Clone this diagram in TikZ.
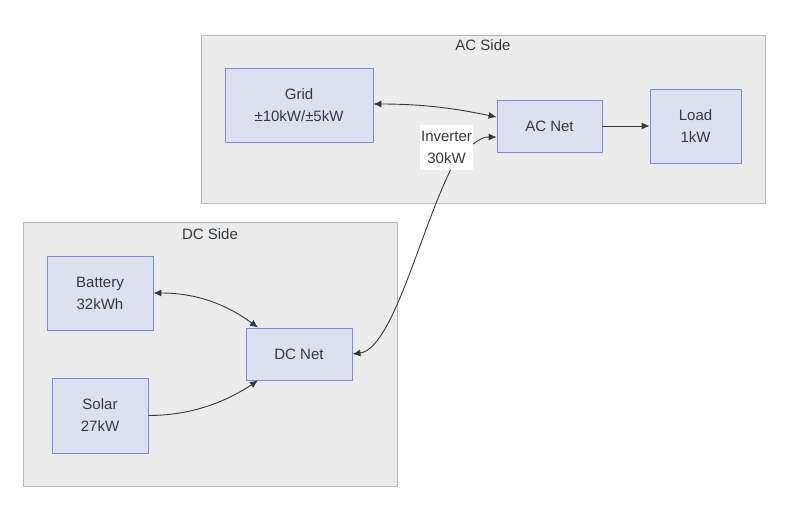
\documentclass[tikz,border=0pt]{standalone}
\usepackage{fontspec}
\setmainfont{Liberation Sans}
\usetikzlibrary{arrows.meta}
\definecolor{clfill}{HTML}{ECECEC}
\definecolor{cldraw}{HTML}{B8B8B8}
\definecolor{ndfill}{HTML}{DDE0EF}
\definecolor{nddraw}{HTML}{7F86F2}
\definecolor{txt}{HTML}{333A40}
\tikzset{
  cluster/.style={fill=clfill,draw=cldraw,line width=0.9pt},
  box/.style={fill=ndfill,draw=nddraw,line width=0.9pt,inner sep=0pt,align=center,text=txt,font=\fontsize{15}{22}\selectfont},
  ttl/.style={text=txt,font=\fontsize{15}{16}\selectfont,inner sep=0pt},
  conn/.style={draw=txt,line width=0.9pt},
  tip/.style={-{Latex[length=8pt,width=7pt]}},
  tips/.style={{Latex[length=8pt,width=7pt]}-{Latex[length=8pt,width=7pt]}}
}
\begin{document}
\begin{tikzpicture}[x=1pt,y=-1pt]
\useasboundingbox (0,0) rectangle (794,516);
% clusters
\path[cluster] (201,35) rectangle (765,203);
\node[ttl] (actitle) at (483,45) {AC Side};
\path[cluster] (23,222) rectangle (397,486);
\node[ttl] (dctitle) at (210,234) {DC Side};
% nodes
\node[box,minimum width=148pt,minimum height=74pt] (grid) at (299,105) {Grid\\±10kW/±5kW};
\node[box,minimum width=105pt,minimum height=52pt] (acnet) at (549.5,126) {AC Net};
\node[box,minimum width=91pt,minimum height=74pt] (load) at (695.5,126) {Load\\1kW};
\node[box,minimum width=106pt,minimum height=74pt] (battery) at (100,293) {Battery\\32kWh};
\node[box,minimum width=106pt,minimum height=52pt] (dcnet) at (299,354) {DC Net};
\node[box,minimum width=96pt,minimum height=75pt] (solar) at (100,415.5) {Solar\\27kW};
\node[fill=white,inner sep=0pt,minimum width=53pt,minimum height=45pt,align=center,text=txt,font=\fontsize{15}{22}\selectfont] (inv) at (446.5,147.5) {Inverter\\30kW};
% connectors
\draw[conn,tips] ([yshift=1pt]grid.east) .. controls +(60,0) and +(-30,-6) .. ([yshift=9pt]acnet.west);
\draw[conn,tip] (acnet.east) -- (load.west);
\draw[conn,tips] (battery.east) .. controls +(45,0) and +(-30,-22) .. ([xshift=-41pt]dcnet.north);
\draw[conn,tip] (solar.east) .. controls +(45,0) and +(-30,20) .. ([xshift=-41pt]dcnet.south);
\draw[conn,-{Latex[length=8pt,width=7pt]}] ([xshift=4pt]inv.south) .. controls +(-30,60) and +(40,-5) .. (dcnet.east);
\draw[conn,-{Latex[length=8pt,width=7pt]}] ([yshift=3.5pt]inv.east) .. controls +(8,-6) and +(-12,0) .. ([yshift=-11pt]acnet.west);
\end{tikzpicture}
\end{document}
